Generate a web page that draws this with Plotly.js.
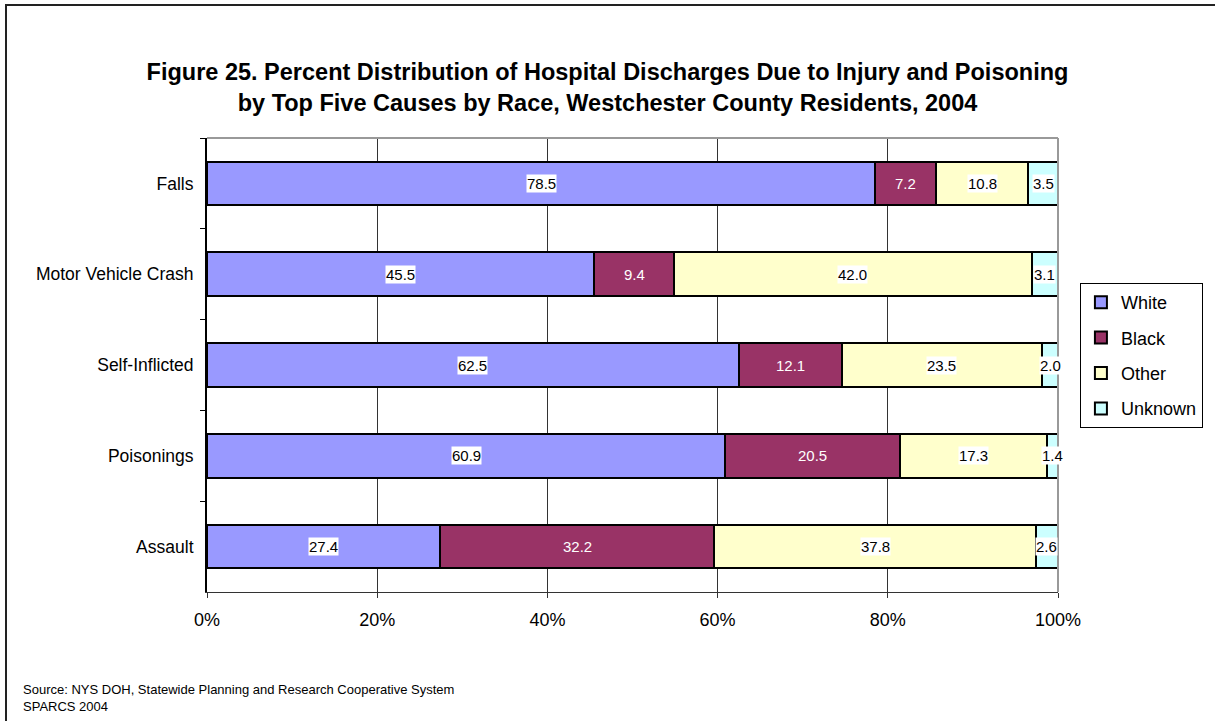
<!DOCTYPE html>
<html>
<head>
<meta charset="utf-8">
<script src="https://cdn.plot.ly/plotly-3.0.1.min.js"></script>
<style>
html,body{margin:0;padding:0;background:#fff;}
#wrap{position:relative;width:1215px;height:721px;overflow:hidden;}
#chart{width:1215px;height:721px;}
#frame{position:absolute;left:5px;top:4px;width:1215px;height:730px;border-left:2px solid #222;border-top:2px solid #222;pointer-events:none;}
</style>
</head>
<body>
<div id="wrap"><div id="chart"></div><div id="frame"></div></div>
<script>
const categories = ["Falls", "Motor Vehicle Crash", "Self-Inflicted", "Poisonings", "Assault"];
const seriesNames = ["White", "Black", "Other", "Unknown"];
const white   = [78.5, 45.5, 62.5, 60.9, 27.4];
const black   = [7.2, 9.4, 12.1, 20.5, 32.2];
const other   = [10.8, 42.0, 23.5, 17.3, 37.8];
const unknown = [3.5, 3.1, 2.0, 1.4, 2.6];
const xTickVals = [0, 20, 40, 60, 80, 100];
const xTickText = ["0%", "20%", "40%", "60%", "80%", "100%"];

const seriesValues = [white, black, other, unknown];
const colors = ["#9999FF", "#993366", "#FFFFCC", "#CCFFFF"];
const FONT = "Liberation Sans, Arial, sans-serif";

const traces = seriesValues.map((vals, i) => ({
  type: "bar",
  orientation: "h",
  name: seriesNames[i],
  legendgroup: seriesNames[i],
  y: categories,
  x: vals,
  marker: {color: colors[i], line: {color: "#000", width: 2}},
  hoverinfo: "skip"
}));

// value labels at segment centres
const annotations = [];
categories.forEach((c, ci) => {
  let cum = 0;
  seriesValues.forEach((vals, si) => {
    const v = vals[ci];
    const mid = cum + v / 2;
    cum += v;
    const isBlack = si === 1;
    annotations.push({
      x: mid, y: c, xref: "x", yref: "y",
      text: v.toFixed(1),
      showarrow: false,
      font: {family: FONT, size: 15, color: isBlack ? "#fff" : "#000"},
      bgcolor: isBlack ? "rgba(0,0,0,0)" : "#fff",
      borderpad: 0
    });
  });
});

annotations.push({
  xref: "paper", yref: "paper",
  x: (20 - 207) / 854, y: (592 - 680) / 454,
  xanchor: "left", yanchor: "top", align: "left",
  text: "Source: NYS DOH, Statewide Planning and Research Cooperative System<br>SPARCS 2004",
  showarrow: false,
  font: {family: FONT, size: 13, color: "#000"}
});

const layout = {
  width: 1215, height: 721,
  margin: {l: 207, r: 154, t: 138, b: 129},
  paper_bgcolor: "#fff", plot_bgcolor: "#fff",
  font: {family: FONT, color: "#000"},
  barmode: "stack",
  bargap: 0.52,
  title: {
    text: "<b>Figure 25. Percent Distribution of Hospital Discharges Due to Injury and Poisoning<br>by Top Five Causes by Race, Westchester County Residents, 2004</b>",
    font: {family: FONT, size: 23.5, color: "#000"},
    x: 0.5, xanchor: "center", xref: "container",
    y: 1 - 80 / 721, yanchor: "top", yref: "container"
  },
  xaxis: {
    range: [0, 100],
    tickvals: xTickVals, ticktext: xTickText,
    showgrid: true, gridcolor: "#333", gridwidth: 1,
    zeroline: false,
    showline: true, linecolor: "#333", linewidth: 1,
    ticks: "outside", ticklen: 5, tickcolor: "#333",
    tickfont: {family: FONT, size: 18, color: "#000"},
    ticklabelstandoff: 6,
    fixedrange: true
  },
  yaxis: {
    type: "category",
    categoryorder: "array", categoryarray: categories,
    autorange: "reversed",
    showgrid: false, zeroline: false,
    showline: true, linecolor: "#000", linewidth: 2,
    ticks: "outside", ticklen: 5, tickcolor: "#000",
    tickson: "boundaries",
    tickfont: {family: FONT, size: 17.5, color: "#000"},
    ticklabelstandoff: 8,
    fixedrange: true
  },
  legend: {
    x: (1083 - 207) / 854, y: (592 - 283) / 454,
    xanchor: "left", yanchor: "top",
    traceorder: "grouped",
    bordercolor: "#000", borderwidth: 1,
    bgcolor: "#fff",
    font: {family: FONT, size: 18, color: "#000"},
    tracegroupgap: 9
  },
  shapes: [
    {type: "line", xref: "paper", yref: "paper", x0: 0, x1: 1, y0: 1, y1: 1, line: {color: "#999", width: 2}},
    {type: "line", xref: "paper", yref: "paper", x0: 1, x1: 1, y0: 0, y1: 1, line: {color: "#999", width: 2}}
  ],
  annotations: annotations,
  showlegend: true
};

Plotly.newPlot("chart", traces, layout, {displayModeBar: false, staticPlot: true});
</script>
</body>
</html>
